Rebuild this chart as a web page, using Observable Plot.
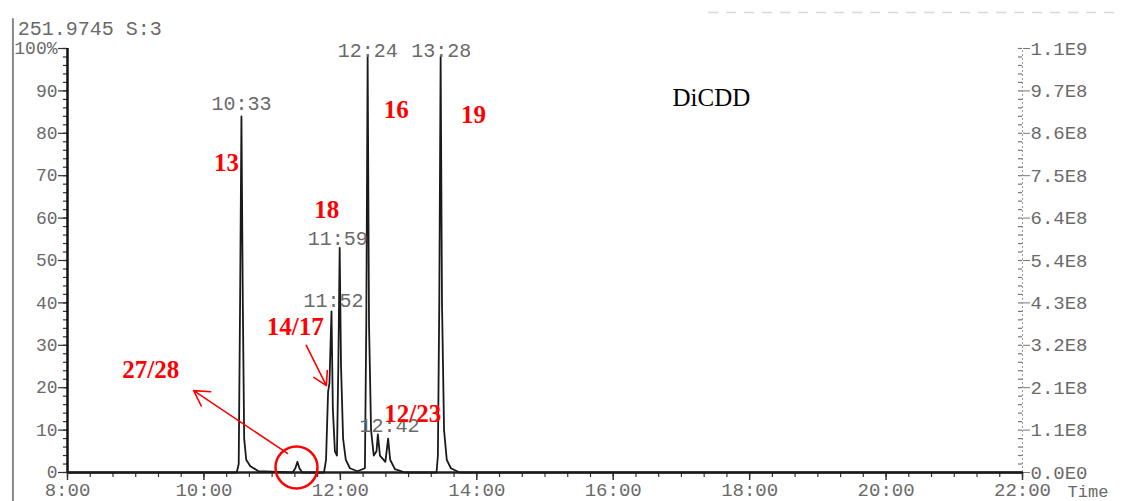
<!DOCTYPE html>
<html>
<head>
<meta charset="utf-8">
<script src="https://cdn.jsdelivr.net/npm/d3@7"></script>
<script src="https://cdn.jsdelivr.net/npm/@observablehq/plot@0.6"></script>
<style>
  html, body { margin: 0; padding: 0; background: #fff; }
</style>
</head>
<body>
<div id="chart"></div>
<script>
// Chromatogram trace (time in minutes, relative abundance %)
const traceTime = [8.00, 10.48, 10.51, 10.53, 10.55, 10.57, 10.59, 10.62, 10.68, 10.80,
  11.30, 11.34, 11.37, 11.40, 11.44, 11.76, 11.79, 11.82, 11.84, 11.87, 11.89, 11.92,
  11.95, 11.97, 11.99, 12.01, 12.04, 12.08, 12.14, 12.25, 12.36, 12.38, 12.40, 12.42,
  12.45, 12.49, 12.53, 12.55, 12.58, 12.66, 12.70, 12.73, 12.80, 12.95, 13.41, 13.43,
  13.45, 13.47, 13.49, 13.52, 13.56, 13.62, 13.75, 22.00];
const traceIntensity = [0, 0, 2, 40, 84, 40, 8, 3, 1.5, 0.3,
  0, 1, 2.5, 1, 0, 0, 3, 19, 21, 38, 15, 5,
  4, 25, 53, 25, 8, 3, 1, 0.3, 1, 35, 98, 35,
  10, 4, 5, 9, 4, 2.5, 8, 3, 0.8, 0, 0, 4,
  40, 98, 40, 10, 3, 1, 0, 0];

// Axes
const xTicks = [8, 10, 12, 14, 16, 18, 20, 22];
const xTickLabels = ["8:00", "10:00", "12:00", "14:00", "16:00", "18:00", "20:00", "22:00"];
const yTicks = [0, 10, 20, 30, 40, 50, 60, 70, 80, 90, 100];
const yLeftLabels = ["0", "10", "20", "30", "40", "50", "60", "70", "80", "90", "100%"];
const yRightLabels = ["0.0E0", "1.1E8", "2.1E8", "3.2E8", "4.3E8", "5.4E8", "6.4E8", "7.5E8", "8.6E8", "9.7E8", "1.1E9"];

// Peak retention-time labels
const peakLabels = ["10:33", "11:52", "11:59", "12:24", "12:42", "13:28"];
const peakLabelX = [10.55, 11.90, 11.96, 12.40, 12.72, 13.48];
const peakLabelY = [87, 40.6, 55.2, 99.5, 11.1, 99.5];

// Congener annotations (red)
const congeners = ["13", "18", "16", "19", "14/17", "27/28", "12/23"];
const congenerX = [10.33, 11.80, 12.82, 13.95, 11.34, 9.22, 13.06];
const congenerY = [72.9, 62.0, 85.4, 84.4, 34.2, 24.1, 13.9];

// Arrows and circle
const arrowFrom = [[11.225, 4.5], [11.50, 30]];
const arrowTo = [[9.85, 19.3], [11.795, 20.5]];
const circleAt = [[11.357, 1.2]];

const header = "251.9745 S:3";
const compound = "DiCDD";

const mono = "'Liberation Mono', 'DejaVu Sans Mono', monospace";
const serif = "'Liberation Serif', 'Times New Roman', serif";
const grey = "#6a6a6a";

const peaks = traceTime.map((t, i) => ({t, v: traceIntensity[i]}));
const pLabels = peakLabels.map((s, i) => ({s, x: peakLabelX[i], y: peakLabelY[i]}));
const cLabels = congeners.map((s, i) => ({s, x: congenerX[i], y: congenerY[i]}));
const arrows = arrowFrom.map((f, i) => ({x1: f[0], y1: f[1], x2: arrowTo[i][0], y2: arrowTo[i][1]}));
const circles = circleAt.map(c => ({x: c[0], y: c[1]}));

// minor tick positions (axis decoration only)
const minorX = d3.range(8, 22.01, 1 / 3);
const minorY = d3.range(0, 100.1, 2);

const chart = Plot.plot({
  width: 1122,
  height: 501,
  marginLeft: 67,
  marginRight: 100,
  marginTop: 48,
  marginBottom: 29,
  style: {background: "#fff", fontFamily: mono, color: grey},
  x: {domain: [8, 22]},
  y: {domain: [0, 100]},
  marks: [
    // outer frame line on the left
    Plot.ruleX([7.2], {y1: -7, y2: 107, stroke: "#888", strokeWidth: 2}),
    // faint dashed line at top right
    Plot.ruleY([108.5], {x1: 17.4, x2: 23.6, stroke: "#d8d8d8", strokeDasharray: "10,8", strokeWidth: 1.5}),
    // minor ticks
    Plot.ruleX(minorX, {y1: 0, y2: -1.2, stroke: "#333", strokeWidth: 1.2}),
    Plot.ruleY(minorY, {x1: 8, x2: 7.94, stroke: "#333", strokeWidth: 1.2}),
    Plot.ruleY(minorY, {x1: 22, x2: 21.94, stroke: "#777", strokeWidth: 1.2}),
    // major axes
    Plot.axisX({ticks: xTicks, tickFormat: (d, i) => xTickLabels[i], tickSize: 8, tickPadding: 2,
      fontSize: 19, fontFamily: mono, fill: grey, stroke: "#333", strokeWidth: 1.5}),
    Plot.axisY({anchor: "left", ticks: yTicks, tickFormat: (d, i) => yLeftLabels[i], tickSize: 9, tickPadding: 1,
      fontSize: 18, fontFamily: mono, fill: grey, stroke: "#333", strokeWidth: 1.2}),
    Plot.axisY({anchor: "right", ticks: yTicks, tickFormat: (d, i) => yRightLabels[i], tickSize: 7, tickPadding: 1,
      fontSize: 19, fontFamily: mono, fill: grey, stroke: "#777"}),
    // axis lines
    Plot.ruleX([8], {y1: 0, y2: 100, stroke: "#111", strokeWidth: 2.5}),
    Plot.ruleX([22], {y1: 0, y2: 100, stroke: "#999", strokeDasharray: "2,2"}),
    Plot.ruleY([0], {x1: 8, x2: 22, stroke: "#222", strokeWidth: 2.5}),
    Plot.text(["Time"], {x: 22.66, y: -4.4, text: d => d, textAnchor: "start", fontSize: 17, fontFamily: mono, fill: grey}),
    // trace
    Plot.line(peaks, {x: "t", y: "v", stroke: "#1a1a1a", strokeWidth: 1.8}),
    // header
    Plot.text([header], {x: 7.27, y: 104.8, text: d => d, textAnchor: "start", fontSize: 20, fontFamily: mono, fill: grey}),
    // peak retention labels
    Plot.text(pLabels, {x: "x", y: "y", text: "s", fontSize: 20, fontFamily: mono, fill: grey}),
    // annotations
    Plot.dot(circles, {x: "x", y: "y", r: 21, stroke: "red", strokeWidth: 2.5, fill: "none"}),
    Plot.arrow(arrows, {x1: "x1", y1: "y1", x2: "x2", y2: "y2", stroke: "red", strokeWidth: 1.6, headLength: 16}),
    Plot.text(cLabels, {x: "x", y: "y", text: "s", fontSize: 25, fontWeight: "bold", fontFamily: serif, fill: "red"}),
    Plot.text([compound], {x: 17.44, y: 88.4, text: d => d, fontSize: 25, fontFamily: serif, fill: "black"})
  ]
});
document.getElementById("chart").appendChild(chart);
</script>
</body>
</html>
